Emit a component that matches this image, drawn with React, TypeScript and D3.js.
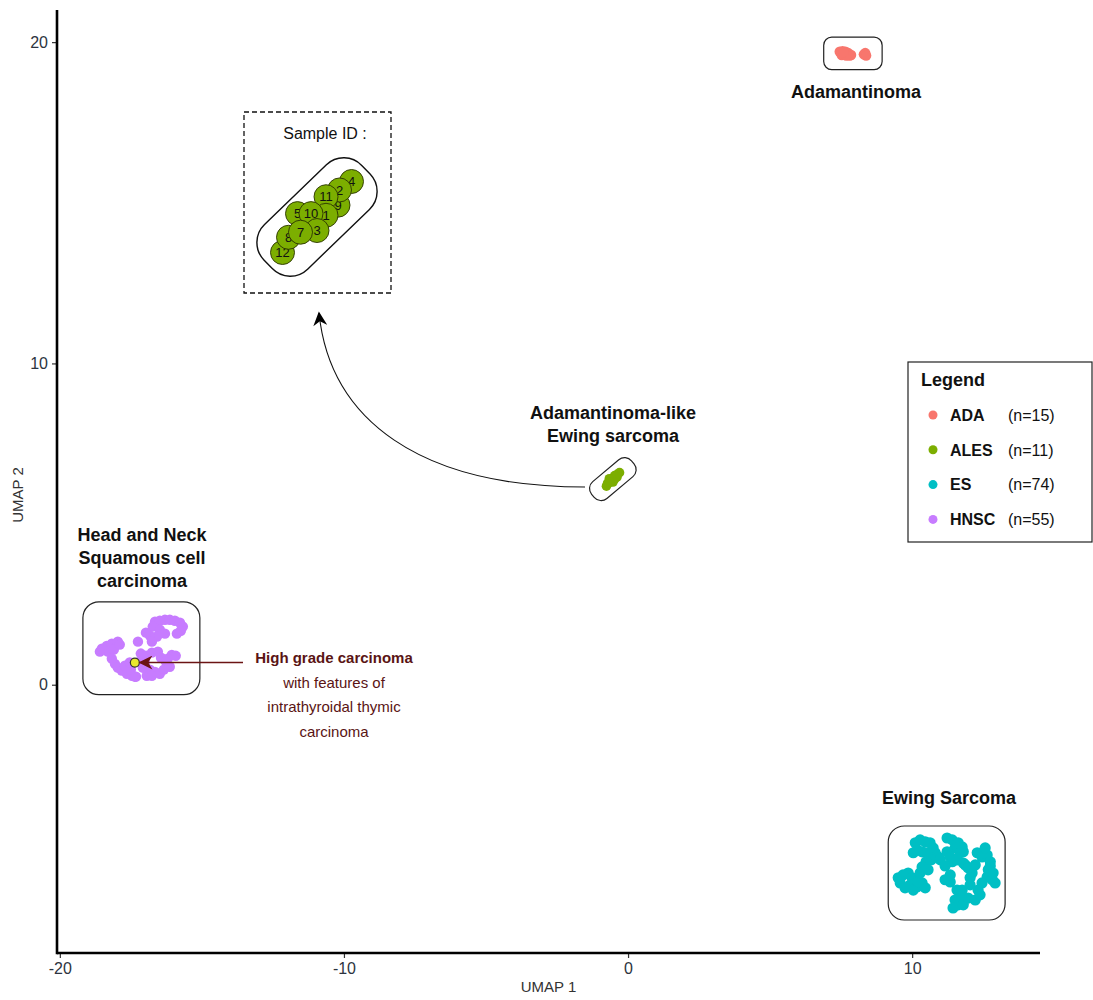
import React, { useEffect, useRef } from "react";
import * as d3 from "d3";

// UMAP coordinates
const adaPoints = [
  [7.45, 19.7], [7.5, 19.66], [7.55, 19.72], [7.6, 19.64], [7.65, 19.7],
  [7.7, 19.62], [7.75, 19.66], [7.8, 19.58], [7.85, 19.6], [7.52, 19.6],
  [7.68, 19.58], [8.3, 19.62], [8.35, 19.66], [8.38, 19.58], [7.58, 19.68],
];

// ALES samples, in drawing order, with their IDs
const alesIds = [4, 9, 2, 11, 1, 5, 10, 3, 12, 8, 7];
const alesPoints = [
  [-0.3, 6.6], [-0.39, 6.46], [-0.38, 6.55], [-0.47, 6.51], [-0.47, 6.4],
  [-0.66, 6.41], [-0.57, 6.41], [-0.53, 6.31], [-0.76, 6.18], [-0.72, 6.27],
  [-0.64, 6.3],
];

const esPoints = [
  [10.11, -4.92], [10.28, -4.83], [10.46, -4.89], [10.63, -4.92], [10.74, -5.08],
  [10.81, -5.23], [10.92, -5.36], [10.04, -5.23], [10.18, -5.14], [10.35, -5.2],
  [10.53, -5.23], [10.67, -5.45], [10.49, -5.51],
  [11.23, -4.77], [11.41, -4.83], [11.62, -4.92], [11.76, -5.05], [11.8, -5.2], [11.51, -5.08],
  [11.23, -5.2], [11.34, -5.36], [11.41, -5.51], [11.58, -5.45], [11.69, -5.23], [11.87, -5.61],
  [12.29, -5.23], [12.46, -5.36], [12.64, -5.3], [12.75, -5.51], [12.68, -5.76],
  [12.64, -5.98], [12.82, -6.07], [12.92, -6.17], [12.46, -6.17], [12.32, -6.39],
  [12.75, -5.64], [12.57, -5.08], [12.85, -5.86],
  [11.8, -5.55], [11.97, -5.7], [12.11, -5.86], [12.04, -6.01], [12.22, -5.61],
  [9.51, -6.01], [9.68, -5.92], [9.86, -5.86], [10.0, -6.01], [9.93, -6.23],
  [10.04, -6.39], [10.18, -6.29], [10.35, -6.17], [10.46, -6.32], [10.21, -6.14],
  [10.35, -5.67], [10.28, -5.86], [9.58, -6.17], [9.75, -6.32],
  [11.34, -6.14], [11.58, -6.39], [11.69, -6.6], [11.51, -6.7], [11.62, -6.85],
  [11.44, -6.95], [11.8, -6.85], [11.97, -6.64], [12.22, -6.7], [11.16, -6.07],
  [11.76, -6.39], [12.04, -6.23],
  [10.99, -5.45], [11.16, -5.64], [10.56, -5.76], [11.34, -5.92], [12.39, -6.54],
];

const hnscPoints = [
  [-16.65, 1.96], [-16.48, 1.99], [-16.3, 2.02], [-16.13, 2.02], [-15.95, 1.99],
  [-15.77, 1.93], [-15.67, 1.81], [-15.74, 1.68], [-15.88, 1.59], [-16.73, 1.81],
  [-16.48, 1.71], [-16.3, 1.59], [-16.58, 1.5], [-16.83, 1.53], [-16.97, 1.62],
  [-16.76, 1.34], [-17.25, 1.34],
  [-18.52, 1.12], [-18.35, 1.21], [-18.17, 1.28], [-17.96, 1.34], [-18.31, 1.03],
  [-18.1, 1.09], [-18.59, 1.03],
  [-18.17, 0.81], [-18.06, 0.65], [-17.96, 0.53], [-17.82, 0.44], [-17.64, 0.34],
  [-17.46, 0.28], [-17.32, 0.25], [-17.5, 0.47], [-17.71, 0.59],
  [-17.15, 0.97], [-16.97, 0.9], [-16.76, 1.0], [-16.55, 1.03], [-16.44, 0.84],
  [-16.27, 0.72], [-16.06, 0.93], [-15.92, 0.9], [-16.2, 0.81],
  [-16.83, 0.47], [-16.65, 0.4], [-16.48, 0.34], [-16.34, 0.47], [-16.94, 0.28],
  [-16.76, 0.28], [-17.08, 0.53], [-17.18, 0.72], [-17.01, 0.69], [-17.54, 0.69],
  [-16.13, 0.56], [-17.89, 1.25], [-17.36, 0.25],
];

// highlighted HNSC case
const highlightPoint = [-17.36, 0.69];

const groups = ["ADA", "ALES", "ES", "HNSC"];
const groupCounts = [15, 11, 74, 55];
const groupColors = ["#F8766D", "#7CAE00", "#00BFC4", "#C77CFF"];

const xTicks = [-20, -10, 0, 10];
const yTicks = [0, 10, 20];

const noteLines = ["High grade carcinoma", "with features of", "intrathyroidal thymic", "carcinoma"];

const App = () => {
  const ref = useRef<SVGSVGElement>(null);

  useEffect(() => {
    drawChart(ref.current);
  }, []);

  return (
    <svg
      ref={ref}
      width={1093}
      height={1000}
      style={{ position: "absolute", left: 0, top: 0, background: "#fff" }}
    />
  );
};

const drawChart = (node: SVGSVGElement | null) => {
  if (!node) return;
  const font = "'Liberation Sans', Arial, sans-serif";
  const left = 57, right = 1040, top = 10, bottom = 953;

  const svg = d3.select(node);
  svg.selectAll("*").remove();
  svg.style("font-family", font);

  const x = d3.scaleLinear().domain([-20.1, 14.5]).range([left, right]);
  const y = d3.scaleLinear().domain([-8.35, 21.0]).range([bottom, top]);

  const defs = svg.append("defs");
  const marker = (id: string, color: string) =>
    defs.append("marker")
      .attr("id", id)
      .attr("viewBox", "0 0 10 10")
      .attr("refX", 9)
      .attr("refY", 5)
      .attr("markerWidth", 16)
      .attr("markerHeight", 14)
      .attr("markerUnits", "userSpaceOnUse")
      .attr("orient", "auto")
      .append("path")
      .attr("d", "M0,0 L10,5 L0,10 L3,5 Z")
      .attr("fill", color);
  marker("arrowBlack", "#000");
  marker("arrowRed", "#6b1414");

  // axes
  const xAxis = svg.append("g").attr("transform", `translate(0,${bottom})`)
    .call(d3.axisBottom(x).tickValues(xTicks).tickFormat((d) => String(d))
      .tickSize(5).tickSizeOuter(0).tickPadding(5));
  const yAxis = svg.append("g").attr("transform", `translate(${left},0)`)
    .call(d3.axisLeft(y).tickValues(yTicks).tickFormat((d) => String(d))
      .tickSize(5).tickSizeOuter(0).tickPadding(4));
  [xAxis, yAxis].forEach((g) => {
    g.select(".domain").remove();
    g.selectAll(".tick line").attr("stroke", "#333").attr("stroke-width", 1.2);
    g.selectAll(".tick text").attr("fill", "#2d3440").style("font-size", "16px").style("font-family", font);
  });
  svg.append("line").attr("x1", left).attr("x2", right).attr("y1", bottom).attr("y2", bottom)
    .attr("stroke", "#000").attr("stroke-width", 2.6);
  svg.append("line").attr("x1", left).attr("x2", left).attr("y1", top).attr("y2", bottom + 1.3)
    .attr("stroke", "#000").attr("stroke-width", 2.6);

  svg.append("text").attr("x", (left + right) / 2).attr("y", 992).attr("text-anchor", "middle")
    .style("font-size", "15px").attr("fill", "#333").text("UMAP 1");
  svg.append("text").attr("transform", `translate(23,495) rotate(-90)`).attr("text-anchor", "middle")
    .style("font-size", "15px").attr("fill", "#333").text("UMAP 2");

  // rounded boxes around clusters
  const clusterBox = (pts: number[][], padX: number, padY: number, rx: number) => {
    const [x0, x1] = d3.extent(pts, (d) => x(d[0])) as [number, number];
    const [y0, y1] = d3.extent(pts, (d) => y(d[1])) as [number, number];
    svg.append("rect")
      .attr("x", x0 - padX).attr("y", y0 - padY)
      .attr("width", x1 - x0 + 2 * padX).attr("height", y1 - y0 + 2 * padY)
      .attr("rx", rx).attr("fill", "none").attr("stroke", "#222").attr("stroke-width", 1.2);
  };
  clusterBox(adaPoints, 16, 14, 8);
  clusterBox(hnscPoints, 17, 18, 16);
  clusterBox(esPoints, 10, 12, 16);

  // tilted box around ALES
  const alesCx = d3.mean(alesPoints, (d) => x(d[0])) as number;
  const alesCy = d3.mean(alesPoints, (d) => y(d[1])) as number;
  svg.append("rect")
    .attr("x", -26).attr("y", -11).attr("width", 52).attr("height", 22).attr("rx", 9)
    .attr("transform", `translate(${alesCx},${alesCy}) rotate(-40)`)
    .attr("fill", "none").attr("stroke", "#222").attr("stroke-width", 1.2);

  // points
  const dots = (pts: number[][], color: string, r: number) =>
    svg.append("g").selectAll("circle").data(pts).join("circle")
      .attr("cx", (d) => x(d[0])).attr("cy", (d) => y(d[1])).attr("r", r).attr("fill", color);
  dots(adaPoints, groupColors[0], 5.2);
  dots(alesPoints, groupColors[1], 4.8);
  dots(esPoints, groupColors[2], 5.6);
  dots(hnscPoints, groupColors[3], 5.2);

  svg.append("circle").attr("cx", x(highlightPoint[0])).attr("cy", y(highlightPoint[1])).attr("r", 4.5)
    .attr("fill", "#e8e830").attr("stroke", "#333").attr("stroke-width", 1.2);

  // cluster labels
  const label = (lines: string[], cx: number, by: number) => {
    const t = svg.append("text").attr("text-anchor", "middle").style("font-size", "18px")
      .style("font-weight", "bold").attr("fill", "#111");
    lines.forEach((s, i) => t.append("tspan").attr("x", cx).attr("y", by + i * 23).text(s));
  };
  label(["Adamantinoma"], 856, 98);
  label(["Adamantinoma-like", "Ewing sarcoma"], 613, 419);
  label(["Head and Neck", "Squamous cell", "carcinoma"], 142, 541);
  label(["Ewing Sarcoma"], 949, 804);

  // curved arrow from ALES to the inset
  svg.append("path")
    .attr("d", "M585,487 C420,487 330,420 319,313")
    .attr("fill", "none").attr("stroke", "#111").attr("stroke-width", 1.1)
    .attr("marker-end", "url(#arrowBlack)");

  // inset: zoom on the ALES samples
  svg.append("rect").attr("x", 244).attr("y", 112).attr("width", 147).attr("height", 181)
    .attr("fill", "none").attr("stroke", "#111").attr("stroke-width", 1.3).attr("stroke-dasharray", "5,3");
  svg.append("text").attr("x", 325).attr("y", 139).attr("text-anchor", "middle")
    .style("font-size", "16px").attr("fill", "#111").text("Sample ID :");

  const ix = d3.scaleLinear().domain([-1.53, 0.47]).range([167, 467]);
  const iy = d3.scaleLinear().domain([5.39, 7.39]).range([386, 48]);
  svg.append("rect")
    .attr("x", -68).attr("y", -31).attr("width", 136).attr("height", 62).attr("rx", 25)
    .attr("transform", `translate(${ix(-0.53)},${iy(6.39)}) rotate(-44)`)
    .attr("fill", "none").attr("stroke", "#111").attr("stroke-width", 1.4);
  const inset = svg.append("g").selectAll("g").data(alesPoints).join("g")
    .attr("transform", (d) => `translate(${ix(d[0])},${iy(d[1])})`);
  inset.append("circle").attr("r", 12).attr("fill", groupColors[1]).attr("stroke", "#2a3300").attr("stroke-width", 0.9);
  inset.append("text").attr("text-anchor", "middle").attr("dy", "0.36em").style("font-size", "13px")
    .attr("fill", "#111").text((d, i) => String(alesIds[i]));

  // annotation for the highlighted case
  svg.append("line").attr("x1", 243).attr("x2", x(highlightPoint[0]) + 5)
    .attr("y1", y(highlightPoint[1])).attr("y2", y(highlightPoint[1]))
    .attr("stroke", "#6b1414").attr("stroke-width", 1.4).attr("marker-end", "url(#arrowRed)");
  const note = svg.append("text").attr("text-anchor", "middle").style("font-size", "15px").attr("fill", "#5a1414");
  noteLines.forEach((s, i) =>
    note.append("tspan").attr("x", 334).attr("y", 663 + i * 24.5)
      .style("font-weight", i === 0 ? "bold" : "normal").text(s));

  // legend
  const lg = svg.append("g").attr("transform", "translate(908,362)");
  lg.append("rect").attr("width", 184).attr("height", 180).attr("fill", "#fff")
    .attr("stroke", "#222").attr("stroke-width", 1.2);
  lg.append("text").attr("x", 13).attr("y", 24).style("font-size", "18px").style("font-weight", "bold")
    .attr("fill", "#111").text("Legend");
  const item = lg.selectAll("g.item").data(groups).join("g").attr("class", "item")
    .attr("transform", (d, i) => `translate(0,${53 + i * 34.8})`);
  item.append("circle").attr("cx", 25).attr("r", 4.5).attr("fill", (d, i) => groupColors[i]);
  item.append("text").attr("x", 42).attr("dy", "0.36em").style("font-size", "16px").style("font-weight", "bold")
    .attr("fill", "#111").text((d) => d);
  item.append("text").attr("x", 100).attr("dy", "0.36em").style("font-size", "16px")
    .attr("fill", "#111").text((d, i) => `(n=${groupCounts[i]})`);
};

export default App;
